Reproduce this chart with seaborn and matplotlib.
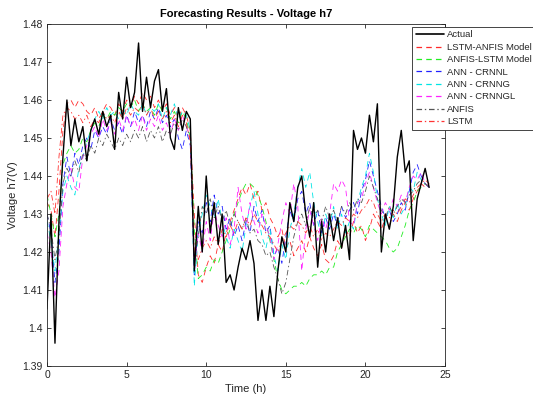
import numpy as np
import pandas as pd
import matplotlib
matplotlib.use("Agg")
import matplotlib.pyplot as plt
from matplotlib.lines import Line2D
import seaborn as sns

# ---- data (sampled every 0.25 h, each row = 2 hours) ----
actual = [
    1.405, 1.430, 1.396, 1.428, 1.445, 1.460, 1.448, 1.455,
    1.449, 1.453, 1.444, 1.452, 1.455, 1.451, 1.457, 1.453,
    1.456, 1.447, 1.462, 1.455, 1.466, 1.458, 1.462, 1.475,
    1.457, 1.466, 1.458, 1.465, 1.468, 1.457, 1.463, 1.450,
    1.447, 1.458, 1.452, 1.457, 1.455, 1.415, 1.432, 1.420,
    1.440, 1.425, 1.433, 1.422, 1.430, 1.412, 1.414, 1.410,
    1.416, 1.421, 1.418, 1.423, 1.417, 1.402, 1.410, 1.402,
    1.411, 1.403, 1.415, 1.424, 1.420, 1.433, 1.428, 1.437,
    1.440, 1.430, 1.424, 1.433, 1.416, 1.428, 1.420, 1.430,
    1.423, 1.429, 1.421, 1.427, 1.418, 1.452, 1.447, 1.450,
    1.446, 1.456, 1.449, 1.459, 1.420, 1.430, 1.426, 1.432,
    1.445, 1.452, 1.441, 1.444, 1.423, 1.434, 1.438, 1.442,
    1.437]

lstm_anfis = [
    1.433, 1.431, 1.424, 1.436, 1.452, 1.459, 1.460, 1.458,
    1.460, 1.459, 1.457, 1.456, 1.458, 1.455, 1.457, 1.459,
    1.458, 1.456, 1.459, 1.457, 1.460, 1.458, 1.461, 1.459,
    1.462, 1.460, 1.461, 1.458, 1.460, 1.457, 1.459, 1.456,
    1.458, 1.455, 1.458, 1.456, 1.452, 1.430, 1.414, 1.412,
    1.416, 1.419, 1.417, 1.422, 1.420, 1.425, 1.428, 1.431,
    1.434, 1.437, 1.435, 1.438, 1.434, 1.436, 1.431, 1.433,
    1.429, 1.427, 1.424, 1.426, 1.421, 1.423, 1.419, 1.421,
    1.423, 1.420, 1.424, 1.421, 1.419, 1.422, 1.418, 1.417,
    1.419, 1.423, 1.421, 1.426, 1.424, 1.428, 1.425, 1.427,
    1.423, 1.426, 1.430, 1.428, 1.426, 1.429, 1.427, 1.430,
    1.428, 1.431, 1.433, 1.431, 1.434, 1.436, 1.438, 1.437,
    1.438]

anfis_lstm = [
    1.435, 1.430, 1.424, 1.430, 1.443, 1.446, 1.448, 1.446,
    1.447, 1.450, 1.449, 1.452, 1.454, 1.453, 1.456, 1.455,
    1.457, 1.456, 1.458, 1.457, 1.459, 1.458, 1.460, 1.457,
    1.459, 1.457, 1.458, 1.456, 1.459, 1.457, 1.458, 1.455,
    1.457, 1.454, 1.457, 1.455, 1.450, 1.426, 1.413, 1.414,
    1.416, 1.415, 1.418, 1.417, 1.420, 1.423, 1.426, 1.430,
    1.433, 1.436, 1.438, 1.438, 1.437, 1.435, 1.432, 1.428,
    1.423, 1.418, 1.413, 1.410, 1.409, 1.410, 1.411, 1.411,
    1.412, 1.411, 1.413, 1.414, 1.414, 1.415, 1.414, 1.416,
    1.416, 1.420, 1.422, 1.424, 1.426, 1.425, 1.427, 1.426,
    1.424, 1.427, 1.426, 1.425, 1.424, 1.423, 1.421, 1.420,
    1.421, 1.424, 1.427, 1.431, 1.433, 1.436, 1.437, 1.438,
    1.437]

ann_crnnl = [
    1.430, 1.425, 1.412, 1.420, 1.438, 1.445, 1.440, 1.446,
    1.443, 1.448, 1.450, 1.447, 1.452, 1.450, 1.453, 1.451,
    1.455, 1.452, 1.454, 1.451, 1.456, 1.453, 1.457, 1.454,
    1.456, 1.453, 1.457, 1.455, 1.458, 1.454, 1.456, 1.453,
    1.455, 1.450, 1.447, 1.452, 1.448, 1.414, 1.428, 1.425,
    1.433, 1.428, 1.435, 1.430, 1.432, 1.426, 1.429, 1.424,
    1.427, 1.423, 1.428, 1.425, 1.432, 1.428, 1.431, 1.425,
    1.427, 1.419, 1.421, 1.417, 1.424, 1.431, 1.428, 1.434,
    1.436, 1.430, 1.433, 1.427, 1.431, 1.425, 1.429, 1.426,
    1.430, 1.427, 1.432, 1.429, 1.431, 1.433, 1.430, 1.436,
    1.439, 1.444, 1.440, 1.436, 1.432, 1.429, 1.431, 1.428,
    1.430, 1.433, 1.431, 1.436, 1.441, 1.443, 1.440, 1.438,
    1.437]

ann_crnng = [
    1.428, 1.423, 1.415, 1.425, 1.436, 1.440, 1.437, 1.435,
    1.442, 1.445, 1.449, 1.452, 1.455, 1.457, 1.455, 1.458,
    1.456, 1.457, 1.455, 1.458, 1.456, 1.459, 1.457, 1.456,
    1.459, 1.456, 1.458, 1.457, 1.459, 1.455, 1.458, 1.456,
    1.459, 1.455, 1.457, 1.456, 1.452, 1.411, 1.425, 1.430,
    1.435, 1.432, 1.429, 1.434, 1.428, 1.424, 1.421, 1.426,
    1.423, 1.420, 1.427, 1.432, 1.436, 1.430, 1.424, 1.421,
    1.426, 1.419, 1.415, 1.422, 1.418, 1.426, 1.430, 1.437,
    1.442, 1.437, 1.441, 1.433, 1.428, 1.424, 1.430, 1.427,
    1.432, 1.426, 1.430, 1.425, 1.428, 1.426, 1.433, 1.437,
    1.440, 1.446, 1.441, 1.434, 1.430, 1.427, 1.432, 1.429,
    1.433, 1.430, 1.432, 1.437, 1.436, 1.441, 1.439, 1.438,
    1.437]

ann_crnngl = [
    1.425, 1.420, 1.408, 1.415, 1.432, 1.438, 1.442, 1.437,
    1.436, 1.445, 1.448, 1.451, 1.453, 1.450, 1.455, 1.452,
    1.454, 1.451, 1.455, 1.452, 1.456, 1.453, 1.455, 1.452,
    1.456, 1.452, 1.455, 1.453, 1.456, 1.452, 1.454, 1.451,
    1.455, 1.452, 1.456, 1.453, 1.450, 1.416, 1.425, 1.420,
    1.428, 1.423, 1.431, 1.427, 1.424, 1.429, 1.422, 1.426,
    1.437, 1.430, 1.426, 1.433, 1.428, 1.425, 1.430, 1.427,
    1.424, 1.418, 1.422, 1.428, 1.433, 1.430, 1.438, 1.432,
    1.415, 1.426, 1.431, 1.427, 1.423, 1.429, 1.426, 1.430,
    1.438, 1.436, 1.439, 1.437, 1.428, 1.427, 1.433, 1.434,
    1.438, 1.441, 1.437, 1.433, 1.430, 1.433, 1.431, 1.434,
    1.432, 1.435, 1.433, 1.437, 1.440, 1.439, 1.441, 1.438,
    1.437]

anfis = [
    1.430, 1.426, 1.418, 1.424, 1.438, 1.442, 1.440, 1.444,
    1.441, 1.446, 1.444, 1.448, 1.446, 1.450, 1.448, 1.451,
    1.449, 1.447, 1.450, 1.448, 1.451, 1.449, 1.452, 1.450,
    1.453, 1.449, 1.452, 1.450, 1.453, 1.449, 1.452, 1.451,
    1.454, 1.452, 1.455, 1.453, 1.450, 1.418, 1.424, 1.432,
    1.430, 1.434, 1.429, 1.432, 1.428, 1.431, 1.427, 1.430,
    1.428, 1.426, 1.429, 1.425, 1.426, 1.423, 1.422, 1.419,
    1.420, 1.416, 1.413, 1.409, 1.412, 1.418, 1.424, 1.428,
    1.430, 1.427, 1.432, 1.429, 1.431, 1.428, 1.432, 1.429,
    1.431, 1.428, 1.432, 1.430, 1.433, 1.431, 1.434, 1.433,
    1.436, 1.440, 1.437, 1.434, 1.431, 1.429, 1.432, 1.430,
    1.432, 1.434, 1.433, 1.435, 1.436, 1.438, 1.439, 1.438,
    1.437]

lstm = [
    1.434, 1.436, 1.430, 1.445, 1.456, 1.458, 1.457, 1.455,
    1.456, 1.454, 1.456, 1.453, 1.455, 1.454, 1.457, 1.455,
    1.456, 1.454, 1.457, 1.455, 1.458, 1.456, 1.458, 1.457,
    1.459, 1.456, 1.458, 1.455, 1.457, 1.455, 1.457, 1.454,
    1.456, 1.453, 1.456, 1.454, 1.449, 1.420, 1.418, 1.421,
    1.423, 1.421, 1.424, 1.422, 1.426, 1.424, 1.427, 1.425,
    1.428, 1.426, 1.429, 1.427, 1.430, 1.428, 1.427, 1.425,
    1.424, 1.422, 1.420, 1.423, 1.425, 1.427, 1.426, 1.428,
    1.427, 1.425, 1.427, 1.424, 1.426, 1.423, 1.425, 1.424,
    1.426, 1.428, 1.427, 1.429, 1.428, 1.430, 1.429, 1.431,
    1.432, 1.434, 1.433, 1.430, 1.428, 1.430, 1.429, 1.431,
    1.430, 1.432, 1.434, 1.433, 1.435, 1.437, 1.438, 1.439,
    1.438]

labels = ["Actual", "LSTM-ANFIS Model", "ANFIS-LSTM Model", "ANN - CRNNL",
          "ANN - CRNNG", "ANN - CRNNGL", "ANFIS", "LSTM"]
x_ticks = [0, 5, 10, 15, 20, 25]
y_ticks = [1.39, 1.40, 1.41, 1.42, 1.43, 1.44, 1.45, 1.46, 1.47, 1.48]
y_ticklabels = ["1.39", "1.4", "1.41", "1.42", "1.43", "1.44", "1.45", "1.46", "1.47", "1.48"]

series = [actual, lstm_anfis, anfis_lstm, ann_crnnl, ann_crnng, ann_crnngl, anfis, lstm]

# ---- styles ----
dash = (0, (4, 3))
dashdot = (0, (4, 2, 1, 2))
styles = [
    dict(color="black", linestyle="-", linewidth=1.0),
    dict(color="#ff2a2a", linestyle=dash, linewidth=0.6),
    dict(color="#22ee22", linestyle=dash, linewidth=0.6),
    dict(color="#2222ff", linestyle=dash, linewidth=0.6),
    dict(color="#00e5e5", linestyle=dash, linewidth=0.6),
    dict(color="#ff22ff", linestyle=dash, linewidth=0.6),
    dict(color="#555555", linestyle=dashdot, linewidth=0.6),
    dict(color="#ff3333", linestyle=dashdot, linewidth=0.6),
]

sns.set_style("ticks")
plt.rcParams["font.family"] = ["Liberation Sans", "DejaVu Sans"]
plt.rcParams["lines.scale_dashes"] = False

fig = plt.figure(figsize=(5.33, 3.98), dpi=100)
fig.patch.set_facecolor("white")
ax = fig.add_axes([0.0882, 0.0804, 0.7468, 0.8593])

draw_order = [1, 2, 3, 4, 5, 6, 7, 0]
for i in draw_order:
    vals = series[i]
    t = np.linspace(0, 24, len(vals))
    df = pd.DataFrame({"t": t, "v": vals})
    sns.lineplot(data=df, x="t", y="v", ax=ax, legend=False, **styles[i])

ax.set_xlim(0, 25)
ax.set_ylim(1.39, 1.48)
ax.set_xticks(x_ticks)
ax.set_yticks(y_ticks)
ax.set_xticklabels([str(v) for v in x_ticks])
ax.set_yticklabels(y_ticklabels)
ax.tick_params(direction="in", length=3, width=0.6, labelsize=7.5, colors="#262626",
               top=True, right=True, pad=3)
for s in ax.spines.values():
    s.set_visible(True)
    s.set_linewidth(0.6)
    s.set_color("#262626")

ax.set_xlabel("Time (h)", fontsize=8, color="#262626", labelpad=3)
ax.set_ylabel("Voltage h7(V)", fontsize=8, color="#262626", labelpad=3)
ax.set_title("Forecasting Results - Voltage h7", fontsize=8, fontweight="bold",
             color="black", pad=5)

handles = []
for st in styles:
    kw = dict(st)
    kw["linewidth"] = 1.2 if kw["linestyle"] == "-" else 0.9
    handles.append(Line2D([], [], **kw))
leg = ax.legend(handles, labels,
                loc="upper left", bbox_to_anchor=(0.773, 0.933),
                bbox_transform=fig.transFigure, fontsize=6.8, frameon=True,
                fancybox=False, edgecolor="#262626", framealpha=1,
                handlelength=3.0, handletextpad=0.35, labelspacing=0.36,
                borderpad=0.4, borderaxespad=0)
leg.get_frame().set_linewidth(0.6)

fig.savefig("out.png", dpi=100, facecolor="white")
